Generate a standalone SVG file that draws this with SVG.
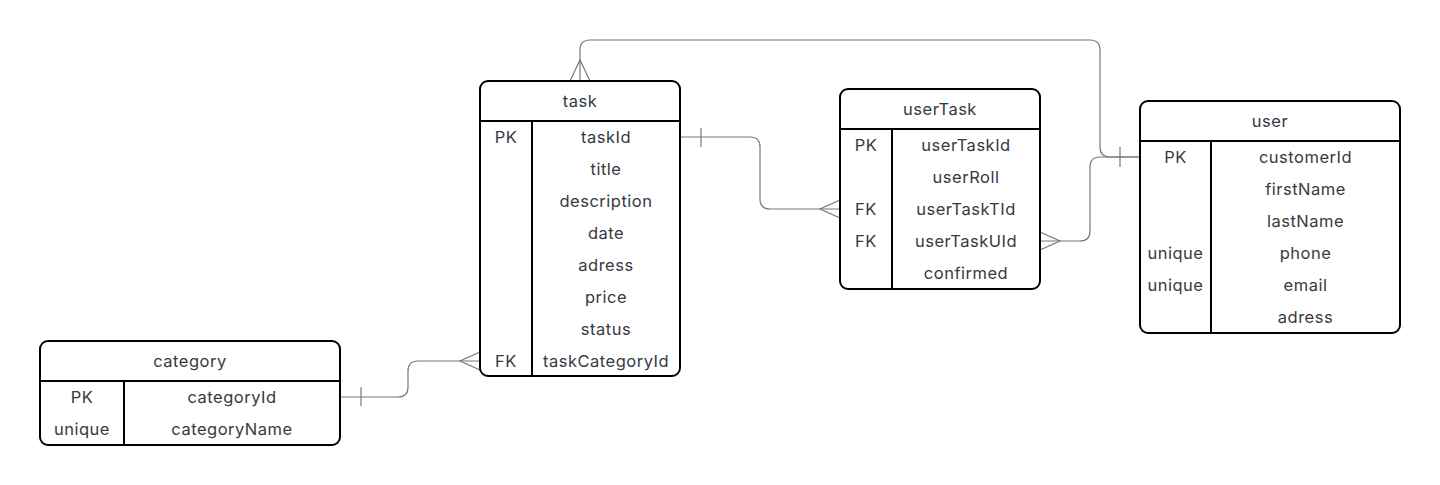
<svg xmlns="http://www.w3.org/2000/svg" width="1440" height="485" viewBox="0 0 1440 485">
<style>
.box{fill:#ffffff;stroke:#000000;stroke-width:2}
.sep{stroke:#000000;stroke-width:2;fill:none}
.t{font-family:Inter,"Liberation Sans",Arial,sans-serif;font-size:16.5px;letter-spacing:0.5px;fill:#363a42;text-anchor:middle;dominant-baseline:central}
.c{fill:none;stroke:#737780;stroke-width:1.2}
</style>
<rect width="1440" height="485" fill="#ffffff"/>
<g id="connectors">
<!-- task.taskId -> userTask.userTaskTId -->
<path class="c" d="M680,137 H750 Q760,137 760,147 V199 Q760,209 770,209 H840"/>
<path class="c" d="M701,128 V147"/>
<path class="c" d="M840,200 L820,209 L840,218"/>
<!-- userTask.userTaskUId -> user.customerId -->
<path class="c" d="M1040,241 H1080 Q1090,241 1090,231 V167 Q1090,157 1100,157 H1140"/>
<path class="c" d="M1040,232 L1060,241 L1040,250"/>
<path class="c" d="M1120,147 V167"/>
<!-- task top -> user.customerId -->
<path class="c" d="M580,81 V50 Q580,40 590,40 H1090 Q1100,40 1100,50 V147 Q1100,157 1110,157 H1140"/>
<path class="c" d="M570,81 L580,60 L590,81"/>
<!-- category.categoryId -> task.taskCategoryId -->
<path class="c" d="M340,397 H398 Q408,397 408,387 V371 Q408,361 418,361 H480"/>
<path class="c" d="M361,387 V406"/>
<path class="c" d="M480,352 L460,361 L480,370"/>
</g>
<g id="task">
<rect class="box" x="480" y="81" width="200" height="295" rx="8"/>
<path class="sep" d="M480,121 H680 M532,121 V376"/>
<text class="t" x="580" y="101">task</text>
<text class="t" x="506" y="137">PK</text>
<text class="t" x="606" y="137">taskId</text>
<text class="t" x="606" y="169">title</text>
<text class="t" x="606" y="201">description</text>
<text class="t" x="606" y="233">date</text>
<text class="t" x="606" y="265">adress</text>
<text class="t" x="606" y="297">price</text>
<text class="t" x="606" y="329">status</text>
<text class="t" x="506" y="361">FK</text>
<text class="t" x="606" y="361">taskCategoryId</text>
</g>
<g id="userTask">
<rect class="box" x="840" y="89" width="200" height="200" rx="8"/>
<path class="sep" d="M840,129 H1040 M892,129 V289"/>
<text class="t" x="940" y="109">userTask</text>
<text class="t" x="866" y="145">PK</text>
<text class="t" x="966" y="145">userTaskId</text>
<text class="t" x="966" y="177">userRoll</text>
<text class="t" x="866" y="209">FK</text>
<text class="t" x="966" y="209">userTaskTId</text>
<text class="t" x="866" y="241">FK</text>
<text class="t" x="966" y="241">userTaskUId</text>
<text class="t" x="966" y="273">confirmed</text>
</g>
<g id="user">
<rect class="box" x="1140" y="101" width="260" height="232" rx="8"/>
<path class="sep" d="M1140,141 H1400 M1211,141 V333"/>
<text class="t" x="1270" y="121">user</text>
<text class="t" x="1175.5" y="157">PK</text>
<text class="t" x="1305.5" y="157">customerId</text>
<text class="t" x="1305.5" y="189">firstName</text>
<text class="t" x="1305.5" y="221">lastName</text>
<text class="t" x="1175.5" y="253">unique</text>
<text class="t" x="1305.5" y="253">phone</text>
<text class="t" x="1175.5" y="285">unique</text>
<text class="t" x="1305.5" y="285">email</text>
<text class="t" x="1305.5" y="317">adress</text>
</g>
<g id="category">
<rect class="box" x="40" y="341" width="300" height="104" rx="8"/>
<path class="sep" d="M40,381 H340 M124,381 V445"/>
<text class="t" x="190" y="361">category</text>
<text class="t" x="82" y="397">PK</text>
<text class="t" x="232" y="397">categoryId</text>
<text class="t" x="82" y="429">unique</text>
<text class="t" x="232" y="429">categoryName</text>
</g>
</svg>
